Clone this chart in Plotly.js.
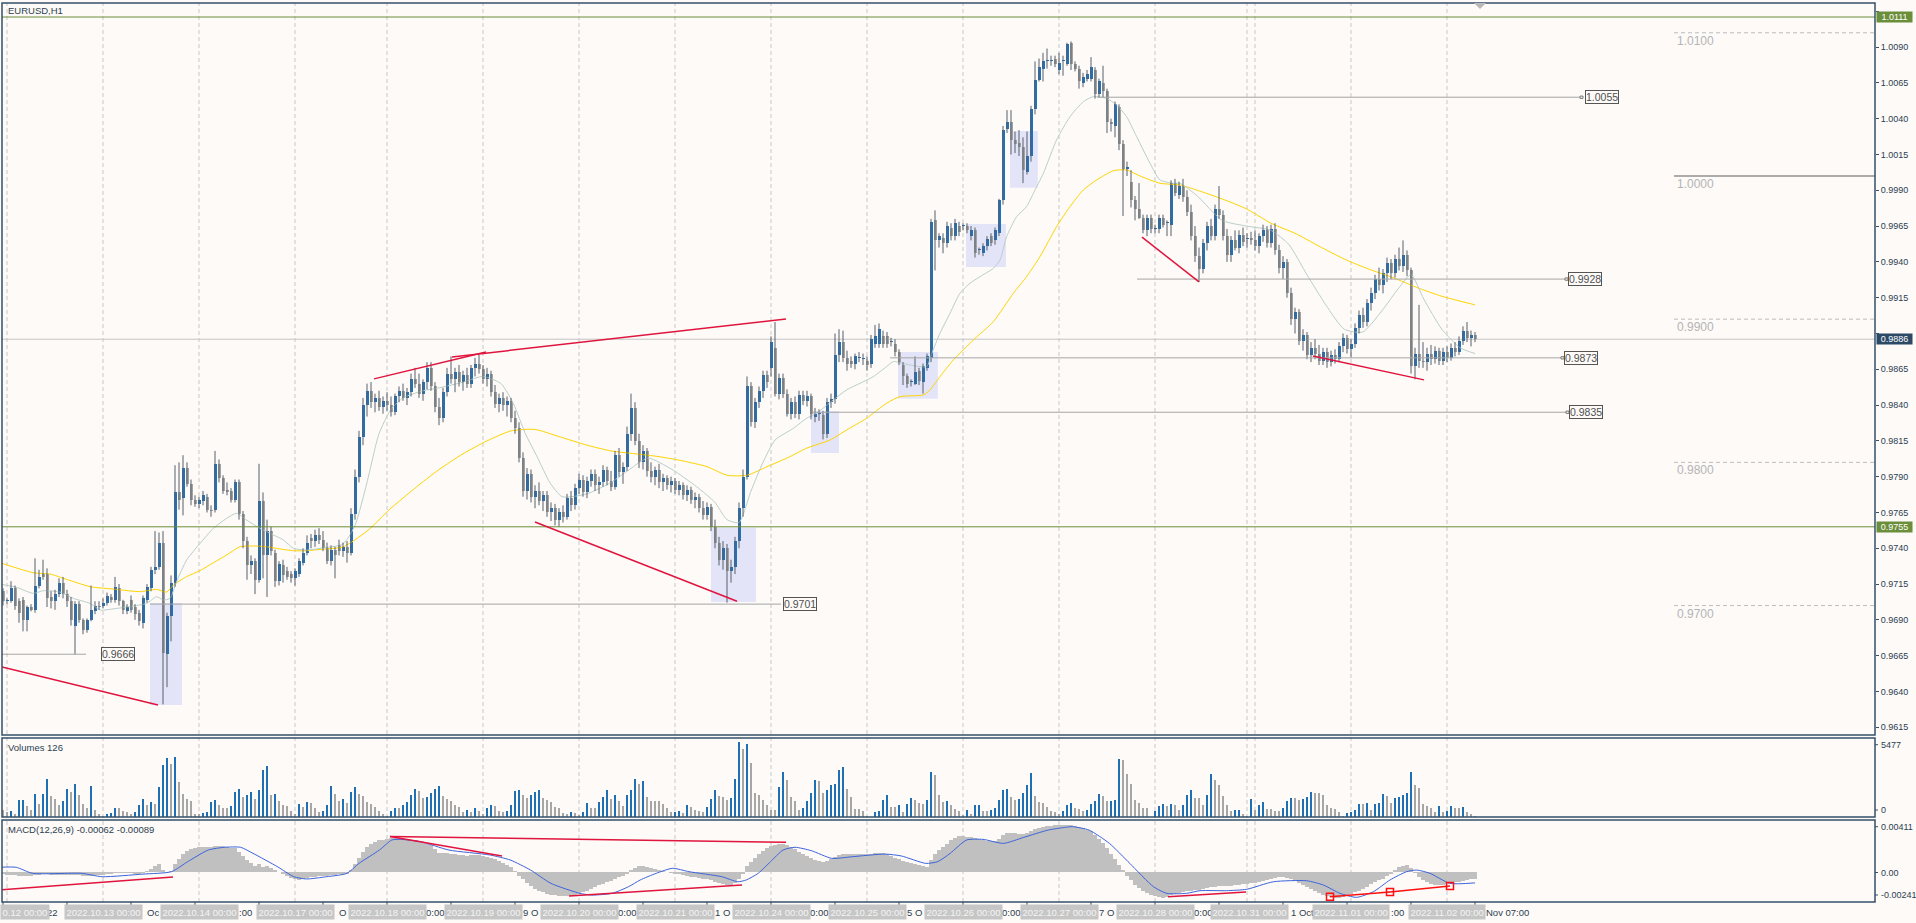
<!DOCTYPE html>
<html><head><meta charset="utf-8">
<script src="https://cdn.plot.ly/plotly-3.0.1.min.js"></script>
<style>html,body{margin:0;padding:0;background:#fdfaf8;}#chart{width:1916px;height:923px;}</style>
</head><body><div id="chart"></div>
<script>
// ---------------- data: EURUSD H1, bar 0 = 11 Oct 23:00 ... bar 368 = 2 Nov 07:00 ----------------
const open = [
.9710,.9703,.9703,.9712,.9703,.9704,.9690,.9699,.9697,.9714,
.9722,.9722,.9706,.9703,.9708,.9716,.9708,.9703,.9686,.9701,
.9690,.9683,.9690,.9696,.9700,.9700,.9702,.9706,.9704,.9712,
.9703,.9696,.9704,.9699,.9695,.9688,.9704,.9712,.9725,.9727,
.9744,.9666,.9693,.9716,.9779,.9775,.9796,.9785,.9774,.9771,
.9773,.9776,.9767,.9767,.9799,.9789,.9781,.9780,.9774,.9786,
.9764,.9745,.9728,.9731,.9718,.9773,.9735,.9752,.9737,.9717,
.9728,.9724,.9722,.9719,.9722,.9730,.9737,.9747,.9745,.9749,
.9746,.9740,.9731,.9739,.9742,.9738,.9741,.9737,.9764,.9790,
.9818,.9840,.9850,.9842,.9845,.9839,.9843,.9840,.9835,.9846,
.9850,.9845,.9849,.9858,.9855,.9848,.9856,.9866,.9853,.9839,
.9831,.9849,.9862,.9858,.9863,.9856,.9861,.9855,.9866,.9869,
.9865,.9858,.9862,.9849,.9841,.9845,.9840,.9843,.9831,.9824,
.9803,.9780,.9792,.9776,.9780,.9773,.9777,.9765,.9768,.9760,
.9765,.9762,.9775,.9770,.9782,.9788,.9779,.9787,.9792,.9784,
.9786,.9795,.9787,.9783,.9805,.9793,.9797,.9820,.9838,.9815,
.9800,.9808,.9794,.9790,.9795,.9786,.9789,.9784,.9787,.9781,
.9784,.9777,.9781,.9774,.9776,.9768,.9763,.9769,.9755,.9744,
.9732,.9740,.9724,.9727,.9745,.9768,.9790,.9853,.9828,.9842,
.9850,.9861,.9866,.9880,.9848,.9859,.9848,.9834,.9842,.9834,
.9847,.9843,.9846,.9832,.9834,.9833,.9820,.9842,.9844,.9875,
.9884,.9873,.9871,.9869,.9873,.9872,.9871,.9869,.9883,.9883,
.9888,.9888,.9884,.9883,.9877,.9868,.9860,.9856,.9855,.9864,
.9856,.9866,.9873,.9969,.9955,.9957,.9953,.9964,.9958,.9965,
.9965,.9965,.9958,.9962,.9948,.9946,.9951,.9958,.9955,.9960,
.9983,1.0033,1.0038,1.0025,1.0023,1.0020,1.0003,1.0014,1.0047,1.0067,
1.0075,1.0080,1.0080,1.0082,1.0074,1.0080,1.0078,1.0093,1.0078,1.0075,
1.0065,1.0068,1.0068,1.0074,1.0057,1.0065,1.0059,1.0038,1.0035,1.0048,
1.0022,1.0005,.9996,.9983,.9977,.9971,.9962,.9971,.9963,.9963,
.9971,.9967,.9966,.9995,.9987,.9993,.9985,.9975,.9958,.9944,
.9935,.9953,.9965,.9958,.9977,.9973,.9958,.9945,.9955,.9950,
.9959,.9956,.9957,.9955,.9951,.9958,.9962,.9953,.9963,.9948,
.9936,.9940,.9918,.9900,.9905,.9885,.9889,.9875,.9880,.9876,
.9871,.9877,.9870,.9875,.9872,.9881,.9887,.9879,.9883,.9894,
.9903,.9898,.9911,.9918,.9928,.9924,.9932,.9939,.9932,.9942,
.9937,.9945,.9934,.9867,.9876,.9871,.9870,.9876,.9872,.9878,
.9871,.9877,.9873,.9880,.9877,.9885,.9892,.9887,.9889];
const high = [
.9712,.9705,.9717,.9714,.9705,.9706,.9700,.9701,.9733,.9725,
.9732,.9726,.9710,.9711,.9719,.9720,.9711,.9706,.9703,.9703,
.9691,.9691,.9714,.9703,.9703,.9705,.9709,.9708,.9720,.9715,
.9704,.9701,.9707,.9701,.9697,.9707,.9715,.9727,.9752,.9751,
.9752,.9695,.9721,.9798,.9800,.9805,.9800,.9788,.9777,.9776,
.9780,.9778,.9770,.9808,.9802,.9791,.9786,.9782,.9788,.9788,
.9766,.9748,.9735,.9733,.9799,.9779,.9760,.9755,.9739,.9731,
.9732,.9727,.9724,.9726,.9733,.9740,.9749,.9750,.9753,.9754,
.9752,.9744,.9742,.9741,.9746,.9744,.9745,.9768,.9795,.9822,
.9845,.9855,.9856,.9848,.9850,.9846,.9849,.9846,.9848,.9853,
.9855,.9852,.9862,.9866,.9862,.9858,.9870,.9870,.9856,.9845,
.9852,.9866,.9874,.9866,.9868,.9864,.9866,.9868,.9873,.9875,
.9868,.9866,.9864,.9854,.9848,.9849,.9846,.9845,.9836,.9828,
.9807,.9796,.9795,.9784,.9786,.9780,.9780,.9772,.9771,.9768,
.9770,.9778,.9780,.9785,.9792,.9791,.9790,.9795,.9795,.9790,
.9798,.9797,.9794,.9808,.9810,.9800,.9825,.9848,.9842,.9820,
.9812,.9810,.9800,.9797,.9799,.9792,.9791,.9790,.9789,.9787,
.9786,.9784,.9783,.9779,.9778,.9773,.9772,.9771,.9760,.9748,
.9745,.9743,.9732,.9748,.9772,.9795,.9860,.9856,.9845,.9853,
.9864,.9864,.9888,.9898,.9862,.9862,.9851,.9845,.9846,.9850,
.9850,.9850,.9848,.9838,.9837,.9836,.9845,.9848,.9890,.9893,
.9892,.9878,.9874,.9876,.9877,.9876,.9874,.9889,.9896,.9897,
.9892,.9891,.9887,.9886,.9879,.9870,.9862,.9858,.9874,.9866,
.9869,.9876,.9970,.9976,.9960,.9960,.9968,.9967,.9970,.9968,
.9967,.9967,.9965,.9964,.9950,.9953,.9958,.9960,.9964,.9984,
1.0035,1.0046,1.0046,1.0031,1.0032,1.0027,1.0031,1.0049,1.0080,1.0082,
1.0086,1.0089,1.0084,1.0084,1.0086,1.0084,1.0093,1.0094,1.0080,1.0077,
1.0072,1.0074,1.0083,1.0076,1.0068,1.0077,1.0061,1.0040,1.0052,1.0050,
1.0025,1.0010,1.0004,.9986,.9995,.9973,.9973,.9973,.9966,.9973,
.9973,.9969,.9997,.9998,.9996,.9998,.9990,.9980,.9965,.9950,
.9956,.9968,.9970,.9980,.9993,.9976,.9963,.9958,.9962,.9962,
.9964,.9960,.9961,.9962,.9960,.9966,.9965,.9966,.9967,.9952,
.9944,.9942,.9922,.9908,.9907,.9893,.9891,.9884,.9886,.9882,
.9880,.9880,.9878,.9879,.9884,.9890,.9889,.9886,.9897,.9906,
.9908,.9914,.9922,.9931,.9936,.9935,.9943,.9942,.9945,.9950,
.9955,.9948,.9936,.9880,.9910,.9884,.9880,.9882,.9881,.9880,
.9880,.9881,.9883,.9884,.9888,.9895,.9898,.9892,.9891];
const low = [
.9700,.9701,.9702,.9697,.9688,.9682,.9682,.9696,.9695,.9712,
.9718,.9699,.9698,.9697,.9706,.9705,.9699,.9686,.9666,.9688,
.9680,.9681,.9689,.9694,.9697,.9698,.9700,.9702,.9702,.9700,
.9694,.9694,.9695,.9690,.9686,.9684,.9702,.9710,.9722,.9725,
.9631,.9643,.9675,.9713,.9767,.9763,.9783,.9770,.9769,.9768,
.9770,.9765,.9762,.9765,.9786,.9778,.9777,.9772,.9772,.9760,
.9740,.9718,.9722,.9708,.9716,.9719,.9706,.9735,.9713,.9714,
.9716,.9718,.9716,.9714,.9720,.9728,.9735,.9740,.9741,.9743,
.9738,.9729,.9728,.9719,.9735,.9734,.9730,.9735,.9760,.9786,
.9812,.9832,.9838,.9835,.9836,.9834,.9836,.9832,.9833,.9842,
.9843,.9840,.9846,.9852,.9845,.9843,.9851,.9850,.9835,.9826,
.9828,.9846,.9855,.9849,.9853,.9850,.9852,.9852,.9860,.9862,
.9855,.9853,.9846,.9838,.9835,.9836,.9832,.9828,.9820,.9800,
.9776,.9774,.9772,.9768,.9770,.9766,.9762,.9759,.9756,.9755,
.9758,.9760,.9766,.9767,.9778,.9776,.9775,.9783,.9780,.9778,
.9783,.9784,.9780,.9781,.9790,.9785,.9794,.9815,.9812,.9796,
.9795,.9790,.9786,.9784,.9782,.9780,.9781,.9779,.9778,.9777,
.9774,.9773,.9771,.9768,.9765,.9760,.9760,.9752,.9740,.9728,
.9725,.9702,.9716,.9722,.9740,.9762,.9788,.9825,.9824,.9838,
.9845,.9852,.9860,.9846,.9844,.9845,.9832,.9830,.9831,.9830,
.9840,.9839,.9830,.9828,.9829,.9816,.9817,.9838,.9841,.9870,
.9870,.9864,.9866,.9865,.9870,.9868,.9864,.9866,.9880,.9880,
.9880,.9880,.9881,.9874,.9868,.9854,.9852,.9853,.9854,.9854,
.9848,.9864,.9870,.9934,.9950,.9946,.9950,.9955,.9955,.9958,
.9962,.9960,.9955,.9943,.9945,.9944,.9948,.9951,.9952,.9958,
.9980,1.0030,1.0015,1.0016,1.0014,.9995,1.0001,1.0010,1.0043,1.0066,
1.0066,1.0075,1.0077,1.0076,1.0071,1.0070,1.0077,1.0074,1.0073,1.0061,
1.0062,1.0066,1.0066,1.0054,1.0055,1.0055,1.0030,1.0031,1.0027,1.0018,
.9972,1.0000,.9978,.9969,.9970,.9960,.9958,.9960,.9960,.9960,
.9964,.9958,.9958,.9986,.9984,.9982,.9972,.9955,.9940,.9926,
.9932,.9948,.9955,.9955,.9970,.9955,.9940,.9940,.9948,.9946,
.9951,.9950,.9952,.9948,.9946,.9954,.9950,.9950,.9945,.9932,
.9928,.9915,.9896,.9890,.9882,.9878,.9872,.9870,.9872,.9868,
.9868,.9866,.9867,.9869,.9870,.9877,.9876,.9873,.9880,.9890,
.9894,.9895,.9906,.9914,.9920,.9918,.9926,.9928,.9929,.9934,
.9933,.9930,.9862,.9858,.9866,.9866,.9864,.9868,.9869,.9868,
.9868,.9870,.9871,.9874,.9875,.9882,.9884,.9881,.9884];
const close = [
.9703,.9704,.9712,.9700,.9695,.9690,.9699,.9697,.9714,.9720,
.9720,.9705,.9703,.9708,.9716,.9708,.9703,.9690,.9701,.9690,
.9683,.9690,.9697,.9700,.9699,.9702,.9707,.9704,.9713,.9703,
.9697,.9699,.9697,.9694,.9689,.9705,.9713,.9725,.9727,.9744,
.9667,.9693,.9716,.9779,.9774,.9796,.9785,.9774,.9771,.9774,
.9777,.9767,.9766,.9799,.9789,.9780,.9779,.9774,.9786,.9764,
.9745,.9728,.9731,.9718,.9773,.9735,.9752,.9738,.9717,.9729,
.9721,.9720,.9719,.9724,.9731,.9737,.9744,.9745,.9749,.9746,
.9740,.9731,.9739,.9735,.9738,.9741,.9737,.9764,.9790,.9818,
.9840,.9850,.9842,.9845,.9839,.9843,.9840,.9835,.9846,.9850,
.9845,.9849,.9858,.9855,.9848,.9856,.9866,.9853,.9839,.9831,
.9849,.9862,.9858,.9863,.9856,.9861,.9855,.9866,.9869,.9865,
.9858,.9862,.9849,.9841,.9845,.9840,.9843,.9831,.9824,.9803,
.9780,.9792,.9776,.9780,.9773,.9777,.9765,.9768,.9760,.9765,
.9762,.9775,.9770,.9782,.9788,.9779,.9787,.9792,.9784,.9786,
.9795,.9787,.9783,.9805,.9793,.9797,.9820,.9838,.9815,.9800,
.9808,.9794,.9790,.9795,.9786,.9789,.9784,.9787,.9781,.9784,
.9777,.9781,.9774,.9776,.9768,.9763,.9769,.9755,.9744,.9732,
.9740,.9724,.9727,.9745,.9768,.9790,.9853,.9828,.9842,.9850,
.9861,.9856,.9884,.9848,.9859,.9848,.9834,.9842,.9834,.9847,
.9843,.9846,.9834,.9834,.9834,.9820,.9842,.9844,.9875,.9884,
.9873,.9869,.9869,.9874,.9873,.9873,.9868,.9886,.9888,.9893,
.9883,.9883,.9884,.9877,.9870,.9860,.9855,.9856,.9863,.9857,
.9867,.9874,.9968,.9955,.9958,.9953,.9965,.9958,.9967,.9961,
.9965,.9962,.9962,.9946,.9948,.9951,.9956,.9953,.9962,.9983,
1.0032,1.0038,1.0025,1.0022,1.0020,1.0004,1.0014,1.0047,1.0067,1.0076,
1.0080,1.0080,1.0080,1.0078,1.0079,1.0080,1.0092,1.0078,1.0075,1.0066,
1.0069,1.0071,1.0076,1.0057,1.0066,1.0059,1.0038,1.0036,1.0050,1.0022,
1.0005,1.0006,.9983,.9977,.9971,.9962,.9971,.9963,.9964,.9971,
.9966,.9967,.9995,.9988,.9993,.9985,.9975,.9958,.9944,.9935,
.9953,.9965,.9958,.9977,.9973,.9958,.9945,.9955,.9950,.9959,
.9954,.9957,.9955,.9951,.9958,.9962,.9953,.9963,.9948,.9936,
.9940,.9918,.9900,.9905,.9885,.9889,.9875,.9880,.9876,.9871,
.9877,.9870,.9875,.9872,.9881,.9887,.9879,.9883,.9894,.9903,
.9898,.9911,.9918,.9928,.9924,.9932,.9939,.9932,.9942,.9937,
.9945,.9934,.9867,.9876,.9871,.9870,.9876,.9872,.9878,.9871,
.9877,.9873,.9880,.9877,.9885,.9892,.9887,.9889,.9886];
const volume = [
520,380,420,220,1150,1160,730,520,1570,870,
1570,2620,1430,1220,800,1080,1920,1710,2270,1500,
870,590,2130,520,175,100,175,270,590,590,
450,340,175,380,800,1220,800,1010,870,2060,
3600,4080,3690,4150,2410,1570,1220,1080,240,240,
310,320,1010,1150,800,590,590,730,1710,1920,
1360,1500,1710,1220,1850,3240,3520,1500,1570,1080,
800,730,450,175,870,660,1010,940,590,380,
400,800,2130,1570,1080,1250,1000,1700,2050,1600,
1450,1050,900,700,450,200,100,450,650,600,
850,1050,1550,1950,1800,1350,1400,1650,1950,2150,
1450,1250,1100,800,700,350,500,350,650,450,
200,600,800,780,450,350,400,800,1800,1850,
1500,1300,1500,1700,1850,1300,1150,1050,700,600,
250,200,350,300,150,350,950,650,600,1050,
1400,1850,1250,1500,1100,750,1500,1900,2650,2310,
2470,1380,1100,1100,1090,920,640,340,380,420,
300,800,700,500,450,380,700,1220,1850,1430,
1380,1200,1310,2610,5180,4710,5060,3710,1690,1500,
1190,800,520,510,2080,3130,2550,1380,1080,520,
640,1100,1690,2600,2500,1690,1850,2200,2270,3240,
3480,1920,1380,570,560,450,100,35,380,450,
1150,1550,690,680,800,340,920,1310,1200,970,
870,1200,3130,2900,1500,1030,1100,800,570,450,
150,520,220,800,850,450,440,500,620,1200,
1850,1970,1380,1150,1270,1660,2200,3080,1430,1030,
1000,690,450,340,220,450,800,990,640,570,
450,520,870,1100,1570,1430,1080,1100,1150,3990,
3980,3010,2310,1200,990,640,630,35,450,730,
870,730,920,800,500,800,1550,1850,1340,1300,
800,1500,2960,2600,2200,1430,800,450,500,520,
220,100,1270,500,800,1030,570,560,450,440,
640,1080,1310,1300,1150,1220,1380,1730,1690,1660,
1500,800,620,570,340,100,270,340,520,920,
870,970,520,870,970,1570,1480,970,1310,1380,
1500,1660,3130,2200,2040,870,730,620,340,730,
340,450,730,640,640,690,340,200,100];
const macdHist = [
-0.00020,-0.00025,-0.00028,-0.00030,-0.00033,-0.00036,-0.00036,-0.00038,-0.00030,-0.00025,
-0.00020,-0.00022,-0.00026,-0.00026,-0.00024,-0.00024,-0.00026,-0.00030,-0.00028,-0.00030,
-0.00034,-0.00036,-0.00034,-0.00030,-0.00028,-0.00025,-0.00020,-0.00018,-0.00010,-0.00010,
-0.00012,-0.00012,-0.00014,-0.00016,-0.00020,-0.00010,0.00005,0.00025,0.00045,0.00060,
0.00010,-0.00005,0.00005,0.00060,0.00100,0.00140,0.00165,0.00180,0.00190,0.00195,
0.00198,0.00196,0.00195,0.00205,0.00208,0.00204,0.00198,0.00190,0.00185,0.00160,
0.00125,0.00090,0.00070,0.00045,0.00060,0.00040,0.00045,0.00030,0.00010,-0.00005,
-0.00020,-0.00035,-0.00050,-0.00060,-0.00065,-0.00060,-0.00052,-0.00046,-0.00040,-0.00036,
-0.00034,-0.00035,-0.00030,-0.00028,-0.00022,-0.00018,-0.00016,0.00010,0.00060,0.00110,
0.00160,0.00200,0.00220,0.00240,0.00250,0.00255,0.00262,0.00265,0.00268,0.00270,
0.00262,0.00258,0.00255,0.00250,0.00238,0.00228,0.00222,0.00210,0.00180,0.00150,
0.00145,0.00145,0.00142,0.00140,0.00135,0.00130,0.00128,0.00130,0.00135,0.00132,
0.00125,0.00120,0.00112,0.00100,0.00088,0.00070,0.00055,0.00035,0.00005,-0.00035,
-0.00060,-0.00090,-0.00115,-0.00135,-0.00150,-0.00165,-0.00175,-0.00182,-0.00188,-0.00192,
-0.00195,-0.00196,-0.00192,-0.00185,-0.00175,-0.00165,-0.00150,-0.00135,-0.00122,-0.00108,
-0.00095,-0.00085,-0.00075,-0.00055,-0.00045,-0.00035,-0.00020,0.00010,0.00030,0.00042,
0.00048,0.00035,0.00028,0.00020,0.00012,0.00002,-0.00006,-0.00012,-0.00018,-0.00022,
-0.00030,-0.00034,-0.00040,-0.00044,-0.00048,-0.00055,-0.00058,-0.00065,-0.00078,-0.00092,
-0.00098,-0.00108,-0.00106,-0.00090,-0.00060,-0.00015,0.00045,0.00080,0.00110,0.00140,
0.00165,0.00185,0.00205,0.00215,0.00222,0.00220,0.00212,0.00195,0.00178,0.00160,
0.00142,0.00128,0.00112,0.00095,0.00085,0.00078,0.00082,0.00098,0.00118,0.00135,
0.00140,0.00142,0.00142,0.00143,0.00143,0.00142,0.00140,0.00142,0.00145,0.00148,
0.00146,0.00138,0.00125,0.00112,0.00098,0.00085,0.00075,0.00068,0.00060,0.00052,
0.00045,0.00040,0.00095,0.00140,0.00170,0.00195,0.00222,0.00250,0.00270,0.00280,
0.00282,0.00278,0.00272,0.00268,0.00262,0.00255,0.00248,0.00245,0.00246,0.00258,
0.00290,0.00305,0.00308,0.00305,0.00300,0.00298,0.00305,0.00320,0.00338,0.00350,
0.00358,0.00362,0.00365,0.00368,0.00370,0.00370,0.00372,0.00370,0.00365,0.00355,
0.00345,0.00335,0.00320,0.00290,0.00260,0.00230,0.00185,0.00140,0.00100,0.00050,
0.00010,-0.00035,-0.00070,-0.00105,-0.00130,-0.00155,-0.00172,-0.00185,-0.00195,-0.00205,
-0.00208,-0.00202,-0.00188,-0.00178,-0.00168,-0.00162,-0.00155,-0.00150,-0.00148,-0.00146,
-0.00140,-0.00132,-0.00125,-0.00118,-0.00112,-0.00112,-0.00115,-0.00112,-0.00108,-0.00105,
-0.00100,-0.00095,-0.00092,-0.00090,-0.00085,-0.00075,-0.00065,-0.00055,-0.00048,-0.00045,
-0.00042,-0.00050,-0.00062,-0.00075,-0.00090,-0.00105,-0.00120,-0.00138,-0.00155,-0.00170,
-0.00182,-0.00195,-0.00205,-0.00210,-0.00208,-0.00200,-0.00190,-0.00178,-0.00165,-0.00150,
-0.00135,-0.00118,-0.00100,-0.00085,-0.00070,-0.00055,-0.00038,-0.00015,0.00015,0.00035,
0.00045,0.00052,0.00030,-0.00010,-0.00045,-0.00070,-0.00085,-0.00095,-0.00102,-0.00108,
-0.00105,-0.00100,-0.00092,-0.00085,-0.00078,-0.00072,-0.00065,-0.00060,-0.00062];
// signal line, read at points [bar, value]
const macdSignal = [[-0.75,0.00035],[3.3,0.00035],[7.4,-0.00013],[19.7,-0.00013],[24.8,-0.0004],[35,-0.00019],[42.1,0],[46.2,0.0008],[51.3,0.00172],[55.4,0.00194],[59.4,0.00194],[62.5,0.00146],[68.6,0.0004],[72.7,-0.0004],[75.8,-0.00058],[80.9,-0.0004],[86,-0.00013],[89,0.00066],[94.1,0.00172],[97.2,0.00252],[99.3,0.00257],[104.4,0.00239],[111.5,0.00172],[121.7,0.00133],[126.8,0.00093],[131.9,0.00013],[137,-0.00093],[144.2,-0.00172],[147.2,-0.00186],[152.3,-0.00172],[156.4,-0.00119],[159.3,-0.00066],[163.3,-0.00013],[167.4,0.00027],[171.5,0],[179.7,-0.0004],[183.7,-0.0008],[185.8,-0.00066],[188.8,-0.00013],[191.9,0.0008],[195,0.00172],[198,0.00194],[202.1,0.00167],[207.2,0.00106],[212.3,0.00119],[220.5,0.0014],[224.6,0.00125],[230.7,0.00066],[233.7,0.0008],[236.8,0.00146],[240.9,0.00252],[245,0.00257],[250.1,0.00225],[255.2,0.00273],[261.3,0.00331],[265.4,0.00352],[267.4,0.00358],[271.5,0.00331],[276.6,0.00225],[281.7,0.00066],[287.6,-0.00119],[290.9,-0.00172],[295.9,-0.00172],[299.25,-0.00151],[305.9,-0.00151],[310.9,-0.0014],[317.6,-0.0008],[325.9,-0.00072],[330.1,-0.00106],[334.25,-0.00172],[338.4,-0.00204],[342.6,-0.00159],[346.75,-0.00066],[350.9,0],[353.4,0.00013],[356.75,-0.00013],[361.75,-0.00093],[368,-0.00089]];
// moving averages, read at points [bar, price]
const maFast = [[-0.75,.97150],[3.4,.97127],[7.6,.97085],[10.1,.97104],[14.25,.97094],[17.6,.97050],[21.75,.97015],[24.25,.96969],[28.4,.96980],[32.6,.96997],[35.9,.97015],[38.4,.97062],[40.1,.97039],[41.75,.97050],[43.4,.97167],[45.9,.97318],[49.25,.97434],[52.6,.97539],[55.9,.97609],[58.4,.97644],[60.9,.97597],[64.25,.97539],[66.75,.97504],[70.1,.97458],[72.6,.97400],[75.9,.97388],[79.25,.97399],[85,.9743],[88,.9756],[91,.9786],[94,.9820],[97,.9837],[100,.9845],[105,.9850],[109,.9852],[115,.9856],[120,.9860],[124.5,.9855],[127.6,.9841],[130.6,.9820],[133.7,.9803],[136.7,.9786],[139.8,.9776],[146,.9778],[152,.9786],[156.6,.9795],[161.2,.9803],[167.3,.9795],[173.4,.9783],[178,.9772],[181,.9760],[184,.9758],[187,.9780],[190,.9800],[193,.98156],[197.6,.98238],[200.9,.98308],[203.4,.98343],[207.6,.98436],[210.9,.98506],[214.25,.98552],[217.6,.98599],[220.9,.98669],[222.6,.98704],[226.75,.98680],[230.9,.98669],[232.2,.98762],[234.25,.98902],[236.75,.99041],[239.25,.99181],[241.75,.99251],[244.25,.99297],[247.6,.99355],[249.25,.99413],[250.9,.99576],[253.4,.99716],[255.9,.99786],[257.6,.99879],[260.1,1.00019],[263.4,1.00252],[266.75,1.00414],[270.1,1.00519],[272.6,1.00554],[275.9,1.00542],[278.4,1.00496],[280.9,1.00414],[283.4,1.00275],[286.75,1.00089],[289.25,.99972],[292.6,.99949],[294.25,.99949],[298.6,.9986],[304.75,.9969],[310.9,.9965],[317,.9962],[321.5,.9952],[326,.9931],[330.7,.9910],[335.3,.9893],[339.9,.9891],[344.5,.9905],[349,.9922],[352,.9931],[355.2,.9914],[359.7,.9893],[364.3,.9880],[368,.9876]];
const maSlow = [[-0.75,.97299],[7.6,.97229],[11.75,.97220],[15.9,.97183],[21.75,.97132],[28.4,.97113],[34.25,.97097],[38.4,.97113],[40.9,.97094],[42.6,.97143],[45.9,.97202],[49.25,.97244],[52.6,.97299],[55.9,.97353],[59.25,.97411],[62.6,.97416],[65.9,.97411],[68.4,.97399],[72.6,.97383],[75.9,.97383],[79.25,.97392],[85,.9741],[91,.9752],[97,.9768],[103,.9782],[109,.9795],[115,.9806],[121,.9815],[127,.9822],[133,.9823],[139,.9818],[146,.9812],[152,.9808],[158,.9806],[164,.9804],[170,.9801],[176,.9797],[181,.9791],[186,.9791],[191,.9797],[196,.9803],[201,.9810],[206.75,.98156],[210.9,.98226],[215.9,.98308],[220.9,.98413],[224.25,.98459],[230.1,.98471],[231.75,.98506],[234.25,.98599],[237.6,.98715],[242.6,.98855],[247.6,.98983],[252.6,.99181],[255.9,.99297],[259.25,.99437],[263.4,.99646],[266.75,.99786],[270.1,.99903],[273.4,.99972],[277.6,1.00037],[280.9,1.00042],[284.25,1.00000],[289.25,.99949],[294.25,.99937],[298.6,.9990],[304.75,.9984],[310.9,.9977],[317,.9967],[323,.9960],[329,.9951],[335.3,.9942],[341.4,.9935],[347.5,.9929],[353.6,.9922],[359.7,.9916],[368,.9910]];

// price-scale ticks; the labels at 1.0115 and 0.9890 sit under the price badges and are not shown
const priceTicks = [0.9615,0.9640,0.9665,0.9690,0.9715,0.9740,0.9765,0.9790,0.9815,0.9840,0.9865,0.9890,0.9915,0.9940,0.9965,0.9990,1.0015,1.0040,1.0065,1.0090,1.0115];
const priceTickText = ["0.9615","0.9640","0.9665","0.9690","0.9715","0.9740","0.9765","0.9790","0.9815","0.9840","0.9865","","0.9915","0.9940","0.9965","0.9990","1.0015","1.0040","1.0065","1.0090",""];
const daySepIdx = [1,25,49,73,96,120,144,168,192,216,240,264,288,311,313,337,361];
const dateBoxIdx = [1,25,49,73,96,120,144,168,192,216,240,264,288,311.5,337,361];
const dateBoxText = ["2022.10.12 00:00","2022.10.13 00:00","2022.10.14 00:00","2022.10.17 00:00","2022.10.18 00:00","2022.10.19 00:00","2022.10.20 00:00","2022.10.21 00:00","2022.10.24 00:00","2022.10.25 00:00","2022.10.26 00:00","2022.10.27 00:00","2022.10.28 00:00","2022.10.31 00:00","2022.11.01 00:00","2022.11.02 00:00"];
const tickIdx = [0,16,32,48,64,80,96,112,128,144,160,176,192,208,224,240,256,272,288,304,320,336,352,368];
const tickText = ["12 Oct 2022","12 Oct 15:00","13 Oct 07:00","13 Oct 23:00","14 Oct 15:00","17 Oct 07:00","18 Oct 00:00","18 Oct 16:00","19 Oct 08:00","20 Oct 00:00","20 Oct 16:00","21 Oct 08:00","24 Oct 00:00","24 Oct 16:00","25 Oct 08:00","26 Oct 00:00","26 Oct 16:00","27 Oct 08:00","28 Oct 00:00","28 Oct 16:00","31 Oct 07:00","31 Oct 23:00","1 Nov 15:00","2 Nov 07:00"];

// drawn objects (bar index / price)
const trendLines = [[-0.25,0.96571,38.75,0.96306],[92.75,0.98583,120.75,0.98771],[112.25,0.98736,195.75,0.99001],[133,0.97584,183.5,0.97030],[284.75,0.99573,299,0.99260],[327.5,0.98743,355.25,0.98576]];
const macdLines = [[-0.75,-0.00145,42.5,-0.00043],[96.75,0.00279,195.75,0.00234],[96.75,0.00279,124.75,0.00125],[141.5,-0.00193,184.75,-0.00105],[291.25,-0.00200,310.75,-0.00161]];
const macdMarkIdx = [331.75,346.75,361.75], macdMarkVal = [-0.00200,-0.00161,-0.00113];
const zoneRects = [[36.75,0.97018,44.75,0.96306],[177,0.97543,188.25,0.97025],[202,0.98359,209,0.98066],[223.75,0.98771,233.7,0.98445],[240.75,0.99664,250.75,0.99364],[251.75,1.00314,258.7,0.99918]];
const levelPrice = [1.0055,0.9928,0.9873,0.9835,0.9701,0.9666];
const levelFrom  = [273.5,283.5,221.75,202.25,36.75,-0.25];
const levelTo    = [395,391.25,390.25,391.5,194.5,20.75];
const levelBoxAt = [395.5,391.25,390.25,391.5,195,24.5];
const roundLevels = [1.0100,1.0000,0.9900,0.9800,0.9700];

// ---------------- geometry helpers ----------------
const PL=2, PR=1875, PT=3, PB=902;
const px = x => (x-PL)/(PR-PL), py = y => (PB-y)/(PB-PT);
const barX = i => 3+4*i;
const FONT = "Liberation Sans, Arial, sans-serif";
const N = close.length;
const idx = Array.from({length:N},(_,i)=>i);

const wx=[], wy=[];
for(let i=0;i<N;i++){ wx.push(i,i,null); wy.push(low[i],high[i],null); }
const upI=[], upB=[], upH=[], dnI=[], dnB=[], dnH=[];
for(let i=0;i<N;i++){
  const b=Math.min(open[i],close[i]); const h=Math.max(Math.abs(close[i]-open[i]),0.00007);
  if(close[i]>=open[i]){upI.push(i);upB.push(b);upH.push(h);} else {dnI.push(i);dnB.push(b);dnH.push(h);}
}
const volCol = volume.map((v,i)=> (i>0 && v>volume[i-1]) ? '#1f6fb4' : '#a6a6a6');

const traces = [
  {type:'bar',x:idx,y:macdHist,width:1.0,marker:{color:'#c0c0c0',line:{width:0}},xaxis:'x',yaxis:'y3',hoverinfo:'skip'},
  {type:'scatter',mode:'lines',x:macdSignal.map(p=>p[0]),y:macdSignal.map(p=>p[1]),line:{color:'#3c64dc',width:1,shape:'spline',smoothing:0.6},xaxis:'x',yaxis:'y3',hoverinfo:'skip'},
  {type:'scatter',mode:'lines+markers',x:macdMarkIdx,y:macdMarkVal,line:{color:'#ff1010',width:1.5},marker:{symbol:'square-open',size:7,color:'#ff1010',line:{width:1.5}},xaxis:'x',yaxis:'y3',hoverinfo:'skip'},
  {type:'bar',x:idx,y:volume,width:0.72,marker:{color:volCol,line:{width:0}},xaxis:'x',yaxis:'y2',hoverinfo:'skip'},
  {type:'scatter',mode:'lines',x:maSlow.map(p=>p[0]),y:maSlow.map(p=>p[1]),line:{color:'#ffd400',width:1,shape:'spline',smoothing:0.6},hoverinfo:'skip',xaxis:'x',yaxis:'y'},
  {type:'scatter',mode:'lines',x:maFast.map(p=>p[0]),y:maFast.map(p=>p[1]),line:{color:'#b9cfca',width:1,shape:'spline',smoothing:0.6},hoverinfo:'skip',xaxis:'x',yaxis:'y'},
  {type:'scatter',mode:'lines',x:wx,y:wy,line:{color:'#56616b',width:1},hoverinfo:'skip',xaxis:'x',yaxis:'y',connectgaps:false},
  {type:'bar',x:upI,base:upB,y:upH,width:0.75,marker:{color:'#1f72c0',line:{width:0}},xaxis:'x',yaxis:'y',hoverinfo:'skip'},
  {type:'bar',x:dnI,base:dnB,y:dnH,width:0.75,marker:{color:'#a3a3a3',line:{width:0}},xaxis:'x',yaxis:'y',hoverinfo:'skip'}
];

const shapes=[], ann=[];
zoneRects.forEach(r=>shapes.push({type:'rect',xref:'x',yref:'y',x0:r[0],x1:r[2],y0:r[1],y1:r[3],fillcolor:'#e4e4f8',line:{width:0},layer:'below'}));
daySepIdx.forEach(d=>shapes.push({type:'line',xref:'x',yref:'paper',x0:d,x1:d,y0:0,y1:1,line:{color:'#c8c8c8',width:1,dash:'4px,3px'},layer:'below'}));
shapes.push({type:'line',xref:'paper',yref:'y',x0:0,x1:1,y0:1.0111,y1:1.0111,line:{color:'#6b8e3a',width:1}});
shapes.push({type:'line',xref:'paper',yref:'y',x0:0,x1:1,y0:0.9755,y1:0.9755,line:{color:'#6b8e3a',width:1}});
shapes.push({type:'line',xref:'paper',yref:'y',x0:0,x1:1,y0:0.9886,y1:0.9886,line:{color:'#c4c4c4',width:1},layer:'below'});
levelPrice.forEach((p,k)=>{
  shapes.push({type:'line',xref:'x',yref:'y',x0:levelFrom[k],x1:levelTo[k],y0:p,y1:p,line:{color:'#a6a6a6',width:1}});
  if(k<4) shapes.push({type:'rect',xref:'x',yref:'y',x0:levelTo[k]-0.75,x1:levelTo[k],y0:p-0.00008,y1:p+0.00008,line:{color:'#777',width:1},fillcolor:'#fdfaf8'});
  ann.push({xref:'x',yref:'y',x:levelBoxAt[k],y:p,text:p.toFixed(4),showarrow:false,xanchor:'left',yanchor:'middle',font:{family:FONT,size:10.5,color:'#505050'},bgcolor:'#fdfaf8',bordercolor:'#555',borderwidth:1,borderpad:0});
});
roundLevels.forEach(p=>{
  shapes.push({type:'line',xref:'paper',yref:'y',x0:px(1674),x1:1,y0:p,y1:p,line:{color: p===1.0?'#ababab':'#bdbdbd',width:p===1.0?2:1,dash:p===1.0?'solid':'4px,3px'}});
  ann.push({xref:'paper',yref:'y',x:px(1675),y:p,yshift:-8,text:p.toFixed(4),showarrow:false,xanchor:'left',yanchor:'middle',font:{family:FONT,size:12,color:'#b4b4b4'}});
});
trendLines.forEach(t=>shapes.push({type:'line',xref:'x',yref:'y',x0:t[0],y0:t[1],x1:t[2],y1:t[3],line:{color:'#e0143c',width:1.5}}));
macdLines.forEach(t=>shapes.push({type:'line',xref:'x',yref:'y3',x0:t[0],y0:t[1],x1:t[2],y1:t[3],line:{color:'#e0143c',width:1.5}}));
[[3,735],[738,817],[820,902]].forEach(b=>shapes.push({type:'rect',xref:'paper',yref:'paper',x0:px(2),x1:1,y0:py(b[1]),y1:py(b[0]),line:{color:'#34506a',width:1.5},layer:'above'}));
tickIdx.forEach(t=>shapes.push({type:'line',xref:'x',yref:'paper',x0:t,x1:t,y0:py(902),y1:py(906),line:{color:'#34506a',width:1}}));
[744.7,810,826.7,872.5,895].forEach(y=>shapes.push({type:'line',xref:'paper',yref:'paper',x0:1,x1:px(1878),y0:py(y),y1:py(y),line:{color:'#34506a',width:1}}));
shapes.push({type:'path',xref:'paper',yref:'paper',path:`M ${px(1474)} ${py(3)} L ${px(1486)} ${py(3)} L ${px(1480)} ${py(9)} Z`,fillcolor:'#b8b8b8',line:{width:0}});

ann.push({xref:'paper',yref:'paper',x:px(6),y:py(10),text:'EURUSD,H1',showarrow:false,xanchor:'left',yanchor:'middle',font:{family:FONT,size:9.5,color:'#2c3e50'}});
ann.push({xref:'paper',yref:'paper',x:px(6),y:py(747),text:'Volumes 126',showarrow:false,xanchor:'left',yanchor:'middle',font:{family:FONT,size:9.5,color:'#2c3e50'}});
ann.push({xref:'paper',yref:'paper',x:px(6),y:py(829),text:'MACD(12,26,9) -0.00062 -0.00089',showarrow:false,xanchor:'left',yanchor:'middle',font:{family:FONT,size:9.5,color:'#2c3e50'}});
[['5477',744.7],['0',810],['0.00411',826.7],['0.00',872.5],['-0.00241',895]].forEach(a=>ann.push({xref:'paper',yref:'paper',x:px(1879),y:py(a[1]),text:a[0],showarrow:false,xanchor:'left',yanchor:'middle',font:{family:FONT,size:9,color:'#2c3e50'}}));

// time axis: date boxes cover most tick labels; only the uncovered parts of the tick labels are visible
const XF = 9.5;
const cv = document.createElement('canvas').getContext('2d');
cv.font = XF+'px "Liberation Sans", Arial, sans-serif';
const boxes = dateBoxIdx.map((t,k)=>{const c=barX(t); const w=cv.measureText(dateBoxText[k]).width+3; return [c-w/2,c+w/2];});
tickIdx.forEach((t,k)=>{
  let x = barX(t)+2, frag='', fx=0;
  const flush=()=>{ const lead=frag.length-frag.trimStart().length; const f=frag.trim();
    if(f){ const fxx = fx + cv.measureText(frag.slice(0,lead)).width;
      ann.push({xref:'paper',yref:'paper',x:px(fxx),y:py(912),text:f,showarrow:false,xanchor:'left',yanchor:'middle',borderpad:0,font:{family:FONT,size:XF,color:'#2c3e50'}}); }
    frag=''; };
  for(const ch of tickText[k]){
    const w=cv.measureText(ch).width, mid=x+w/2;
    const hidden = boxes.some(b=>mid>b[0]-1 && mid<b[1]+1) || x+w>1916;
    if(!hidden){ if(frag==='') fx=x; frag+=ch; } else if(frag!=='') flush();
    x+=w;
  }
  if(frag!=='') flush();
});
dateBoxIdx.forEach((t,k)=>{
  if(boxes[k][0] < 0){
    ann.push({xref:'paper',yref:'paper',x:px(0),y:py(912),text:dateBoxText[k].slice(6),showarrow:false,xanchor:'left',yanchor:'middle',font:{family:FONT,size:XF,color:'#f4f4f4'},bgcolor:'#c6c6c6',borderpad:1.5});
  } else {
    ann.push({xref:'x',yref:'paper',x:t,y:py(912),text:dateBoxText[k],showarrow:false,xanchor:'center',yanchor:'middle',font:{family:FONT,size:XF,color:'#f4f4f4'},bgcolor:'#c6c6c6',borderpad:1.5});
  }
});
[[1.0111,'#6b8e3a'],[0.9886,'#2c4a66'],[0.9755,'#6b8e3a']].forEach(b=>ann.push({xref:'paper',yref:'y',x:px(1876),y:b[0],text:b[0].toFixed(4),showarrow:false,xanchor:'left',yanchor:'middle',width:35,height:10,bgcolor:b[1],font:{family:FONT,size:9,color:'#ffffff'},borderpad:0}));

const layout = {
  width:1916,height:923,margin:{l:PL,r:1916-PR,t:PT,b:923-PB},
  paper_bgcolor:'#fdfaf8',plot_bgcolor:'#fdfaf8',showlegend:false,barmode:'overlay',bargap:0,
  xaxis:{range:[-0.25,468],showgrid:false,zeroline:false,showticklabels:false,ticks:'',fixedrange:true,anchor:'y3'},
  yaxis:{domain:[py(735),1],range:[0.96096,1.01208],side:'right',anchor:'x',tickvals:priceTicks,ticktext:priceTickText,ticks:'outside',ticklen:3,tickcolor:'#34506a',showgrid:false,zeroline:false,tickfont:{family:FONT,size:9,color:'#2c3e50'}},
  yaxis2:{domain:[py(817),py(738)],range:[0,5477],side:'right',anchor:'x',showticklabels:false,ticks:'',showgrid:false,zeroline:false},
  yaxis3:{domain:[0,py(820)],range:[-0.00241,0.00411],side:'right',anchor:'x',showticklabels:false,ticks:'',showgrid:false,zeroline:false},
  shapes:shapes,annotations:ann
};
Plotly.newPlot('chart',traces,layout,{displayModeBar:false,staticPlot:true});
</script></body></html>
